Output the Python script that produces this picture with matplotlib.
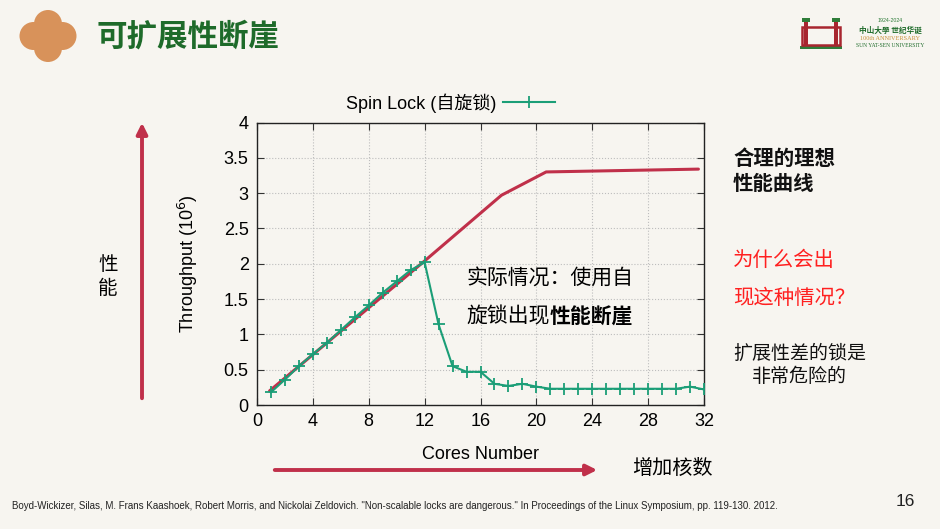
import matplotlib.pyplot as plt
import matplotlib.patches as mpatches

plt.rcParams['font.family'] = ['Liberation Sans', 'Noto Sans CJK SC', 'DejaVu Sans']

# measured spin lock throughput (10^6 ops), cores 1..32
cores = list(range(1, 33))
spin_lock = [0.18, 0.36, 0.55, 0.72, 0.88, 1.06, 1.24, 1.41, 1.59, 1.75,
             1.91, 2.02, 1.14, 0.55, 0.47, 0.47, 0.30, 0.27, 0.30, 0.26,
             0.23, 0.23, 0.23, 0.23, 0.23, 0.23, 0.23, 0.23, 0.23, 0.23,
             0.26, 0.22]

# ideal curve, drawn by hand on the slide
ideal_x = [0.9, 12, 17.5, 20.7, 31.6]
ideal_y = [0.2, 2.04, 2.97, 3.30, 3.34]

xticks = [0, 4, 8, 12, 16, 20, 24, 28, 32]
yticks = [0, 0.5, 1, 1.5, 2, 2.5, 3, 3.5, 4]
ytick_labels = ['0', '0.5', '1', '1.5', '2', '2.5', '3', '3.5', '4']

BG = '#f7f5f0'
RED = '#c0304a'
GREEN = '#1b9e77'
CJK = ['Noto Sans CJK SC', 'DejaVu Sans']

fig = plt.figure(figsize=(9.4, 5.29), dpi=100, facecolor=BG)


def fx(px):
    return px / 940


def fy(py):
    return 1 - py / 529


def circ(cx, cy, r, **kw):
    return mpatches.Ellipse((fx(cx), fy(cy)), 2 * r / 940, 2 * r / 529,
                            transform=fig.transFigure, **kw)


# title bar: icon, title, logo
for dx, dy in [(-14.5, 0), (14.5, 0), (0, -12), (0, 12)]:
    fig.patches.append(circ(48 + dx, 36 + dy, 14, fc='#d8925a', ec='none'))
fig.patches.append(circ(48, 36, 17, fc='#d8925a', ec='none'))
fig.text(fx(97), fy(37), '可扩展性断崖', family=CJK, fontsize=22, fontweight='bold',
         color='#1e6b2a', va='center', ha='left')

# logo (rough)
fig.patches.append(mpatches.Rectangle((fx(800), fy(49)), 42 / 940, 3 / 529,
                                      transform=fig.transFigure, fc='#2f7d3a', ec='none'))
fig.patches.append(mpatches.Rectangle((fx(802), fy(45)), 38 / 940, 18 / 529,
                                      transform=fig.transFigure, fc='none', ec='#a8262f', lw=1.8))
for px in [806, 836]:
    fig.patches.append(mpatches.Rectangle((fx(px - 4), fy(22)), 8 / 940, 4 / 529,
                                          transform=fig.transFigure, fc='#2f7d3a', ec='none'))
    fig.patches.append(mpatches.Rectangle((fx(px - 2), fy(45)), 4 / 940, 23 / 529,
                                          transform=fig.transFigure, fc='#a8262f', ec='none'))
fig.text(fx(890), fy(21), '1924-2024', fontsize=3.8, color='#2f7d3a', ha='center', va='center')
fig.text(fx(890), fy(30), '中山大學 世纪华诞', family=CJK, fontsize=5.5, color='#1e6b2a',
         ha='center', va='center', fontweight='bold')
fig.text(fx(890), fy(39), '100th ANNIVERSARY', family='Liberation Serif', fontsize=4.5,
         color='#c8913a', ha='center', va='center')
fig.text(fx(890), fy(46), 'SUN YAT-SEN UNIVERSITY', family='Liberation Serif', fontsize=4,
         color='#1e6b2a', ha='center', va='center')

# main plot
ax = fig.add_axes([257 / 940, 1 - 405 / 529, 447 / 940, 282.5 / 529])
ax.set_facecolor('none')
ax.plot(ideal_x, ideal_y, color=RED, lw=2.2, solid_capstyle='round', zorder=3)
ax.plot(cores, spin_lock, color=GREEN, lw=1.5, marker='+', ms=9, mew=1.3,
        label='Spin Lock (自旋锁)', zorder=4)

ax.set_xlim(0, 32)
ax.set_ylim(0, 4)
ax.set_xticks(xticks)
ax.set_yticks(yticks)
ax.set_yticklabels(ytick_labels)
ax.tick_params(direction='in', length=5, width=0.8, labelsize=13, top=True, right=True,
               colors='#333333', labelcolor='black', pad=6)
ax.grid(True, ls=':', color='#bdbdbd', lw=0.8)
for s in ax.spines.values():
    s.set_color('#222222')
    s.set_linewidth(1.0)

ax.set_xlabel('Cores Number', fontsize=13, labelpad=11)
ax.set_ylabel('Throughput (10$^6$)', fontsize=13, labelpad=17)

leg = ax.legend(loc='center', bbox_to_anchor=(0.433, 1.069), frameon=False,
                markerfirst=False, fontsize=13, handlelength=2.9, handletextpad=0.35,
                borderpad=0, borderaxespad=0)

ax.text(15.0, 1.80, '实际情况：使用自', family=CJK, fontsize=15, va='center')
ax.text(15.0, 1.25, '旋锁出现', family=CJK, fontsize=15, va='center')
ax.text(20.95, 1.25, '性能断崖', family=CJK, fontsize=15, va='center', fontweight='bold')

# side annotations
ax.annotate('', xy=(fx(142), fy(120)), xytext=(fx(142), fy(401)), xycoords='figure fraction',
            textcoords='figure fraction', annotation_clip=False,
            arrowprops=dict(arrowstyle='-|>', color=RED, lw=2.8, mutation_scale=16))
fig.text(fx(108), fy(265), '性', family=CJK, fontsize=14, ha='center', va='center')
fig.text(fx(108), fy(289), '能', family=CJK, fontsize=14, ha='center', va='center')

ax.annotate('', xy=(fx(600), fy(470)), xytext=(fx(272), fy(470)), xycoords='figure fraction',
            textcoords='figure fraction', annotation_clip=False,
            arrowprops=dict(arrowstyle='-|>', color=RED, lw=2.8, mutation_scale=16))
fig.text(fx(632), fy(468), '增加核数', family=CJK, fontsize=14.5, ha='left', va='center')

fig.text(fx(733), fy(158), '合理的理想', family=CJK, fontsize=14.7, fontweight='bold',
         ha='left', va='center', color='#111111')
fig.text(fx(733), fy(184), '性能曲线', family=CJK, fontsize=14.7, fontweight='bold',
         ha='left', va='center', color='#111111')
fig.text(fx(733), fy(260), '为什么会出', family=CJK, fontsize=14.7, ha='left', va='center',
         color='#ff2020')
fig.text(fx(733), fy(298), '现这种情况？', family=CJK, fontsize=14.7, ha='left', va='center',
         color='#ff2020')
fig.text(fx(733), fy(353), '扩展性差的锁是', family=CJK, fontsize=13.7, ha='left', va='center',
         color='#111111')
fig.text(fx(752), fy(377), '非常危险的', family=CJK, fontsize=13.7, ha='left', va='center',
         color='#111111')

# footer
fig.text(fx(12), fy(506), 'Boyd-Wickizer, Silas, M. Frans Kaashoek, Robert Morris, and Nickolai '
         'Zeldovich. "Non-scalable locks are dangerous." In Proceedings of the Linux Symposium, '
         'pp. 119-130. 2012.', fontsize=7.0, ha='left', va='center', color='#222222')
fig.text(fx(905), fy(501), '16', fontsize=12.5, ha='center', va='center', color='#222222')

fig.savefig('out.png', dpi=100, facecolor=BG)
